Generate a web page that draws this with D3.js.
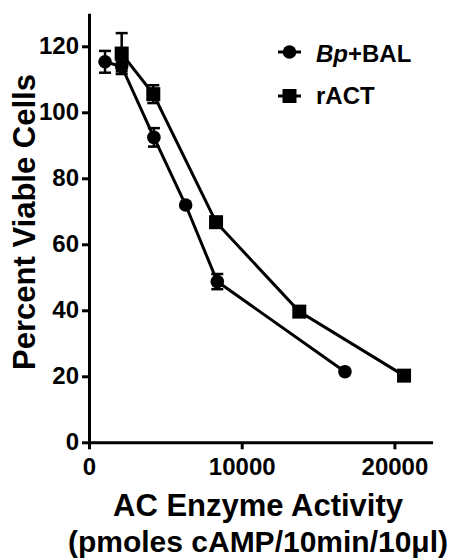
<!DOCTYPE html>
<html>
<head>
<meta charset="utf-8">
<script src="https://cdn.jsdelivr.net/npm/d3@7"></script>
<style>
  body { margin: 0; background: #fff; }
  svg text { font-family: "Liberation Sans", Arial, Helvetica, sans-serif; font-weight: bold; fill: #000; }
</style>
</head>
<body>
<div id="container"></div>
<script>
// datos
var bpX = [1050, 2140, 4250, 6330, 8400, 16760]
var bpY = [115.3, 113.9, 92.4, 71.9, 48.7, 21.4]
var bpErr = [3.3, 1.5, 2.8, 0, 2.3, 0]

var ractX = [2140, 4210, 8320, 13770, 20630]
var ractY = [117.8, 105.5, 66.7, 39.6, 20.2]
var ractErr = [6.2, 2.7, 0, 0, 0]

var yTicks = [0, 20, 40, 60, 80, 100, 120]
var yMinor = [10, 30, 50, 70, 90, 110]
var xTicks = [0, 10000, 20000]
var xMinor = [5000, 15000]

var ancho = 461
var alto = 559

var bp = bpX.map(function(x, i) { return {x: x, y: bpY[i], e: bpErr[i]} })
var ract = ractX.map(function(x, i) { return {x: x, y: ractY[i], e: ractErr[i]} })

// escalas
var escalaX = d3.scaleLinear().domain([0, 22500]).range([89, 432.6])
var escalaY = d3.scaleLinear().domain([0, 130]).range([442.3, 13.3])

var svg = d3.select("#container").append("svg")
  .attr("width", ancho)
  .attr("height", alto)

// ejes
var ejeY = svg.append("g").attr("transform", "translate(89,0)")
ejeY.call(d3.axisLeft(escalaY).tickValues(yMinor).tickSize(4).tickSizeOuter(0).tickFormat(""))
ejeY.call(d3.axisLeft(escalaY).tickValues(yTicks).tickSize(7).tickSizeOuter(0).tickPadding(3))
ejeY.selectAll("text").style("font-size", "24px")

var ejeX = svg.append("g").attr("transform", "translate(0,442.3)")
ejeX.call(d3.axisBottom(escalaX).tickValues(xMinor).tickSize(4).tickSizeOuter(0).tickFormat(""))
ejeX.call(d3.axisBottom(escalaX).tickValues(xTicks).tickSize(7).tickSizeOuter(0).tickPadding(9).tickFormat(d3.format("d")))
ejeX.selectAll("text").style("font-size", "24px")

svg.selectAll(".domain").attr("stroke-width", 3)
svg.selectAll(".tick line").attr("stroke-width", 3)

// lineas
var linea = d3.line().x(function(d) { return escalaX(d.x) }).y(function(d) { return escalaY(d.y) })

function serie(datos, forma) {
  var g = svg.append("g")
  g.append("path").datum(datos)
    .attr("d", linea).attr("fill", "none").attr("stroke", "#000").attr("stroke-width", 3)
  var eb = g.selectAll(".eb").data(datos.filter(function(d) { return d.e > 0 })).enter().append("g")
  eb.append("line")
    .attr("x1", function(d) { return escalaX(d.x) }).attr("x2", function(d) { return escalaX(d.x) })
    .attr("y1", function(d) { return escalaY(d.y + d.e) }).attr("y2", function(d) { return escalaY(d.y - d.e) })
    .attr("stroke", "#000").attr("stroke-width", 2.5)
  ;[1, -1].forEach(function(s) {
    eb.append("line")
      .attr("x1", function(d) { return escalaX(d.x) - 6 }).attr("x2", function(d) { return escalaX(d.x) + 6 })
      .attr("y1", function(d) { return escalaY(d.y + s * d.e) }).attr("y2", function(d) { return escalaY(d.y + s * d.e) })
      .attr("stroke", "#000").attr("stroke-width", 2.5)
  })
  if (forma == "circle") {
    g.selectAll("circle").data(datos).enter().append("circle")
      .attr("cx", function(d) { return escalaX(d.x) })
      .attr("cy", function(d) { return escalaY(d.y) })
      .attr("r", 6.8)
  } else {
    g.selectAll("rect").data(datos).enter().append("rect")
      .attr("x", function(d) { return escalaX(d.x) - 7 })
      .attr("y", function(d) { return escalaY(d.y) - 7 })
      .attr("width", 14).attr("height", 14)
  }
}
serie(bp, "circle")
serie(ract, "square")

// leyenda
var ley = svg.append("g")
ley.append("line").attr("x1", 278).attr("x2", 301).attr("y1", 52).attr("y2", 52).attr("stroke", "#000").attr("stroke-width", 3)
ley.append("circle").attr("cx", 289.5).attr("cy", 52).attr("r", 6.8)
ley.append("line").attr("x1", 278).attr("x2", 301).attr("y1", 96).attr("y2", 96).attr("stroke", "#000").attr("stroke-width", 3)
ley.append("rect").attr("x", 282.5).attr("y", 89).attr("width", 14).attr("height", 14)
var t1 = ley.append("text").attr("x", 316).attr("y", 61.5).style("font-size", "24px")
t1.append("tspan").style("font-style", "italic").text("Bp")
t1.append("tspan").text("+BAL")
ley.append("text").attr("x", 316).attr("y", 104).style("font-size", "24px").text("rACT")

// titulos
svg.append("text")
  .attr("transform", "translate(35,222) rotate(-90)")
  .attr("text-anchor", "middle")
  .style("font-size", "31px")
  .text("Percent Viable Cells")
svg.append("text").attr("x", 258).attr("y", 516).attr("text-anchor", "middle")
  .style("font-size", "31px").text("AC Enzyme Activity")
svg.append("text").attr("x", 258).attr("y", 552).attr("text-anchor", "middle")
  .style("font-size", "30px").text("(pmoles cAMP/10min/10μl)")
</script>
</body>
</html>
